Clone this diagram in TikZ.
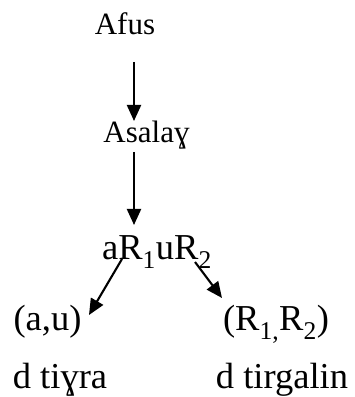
\documentclass[tikz,border=0pt]{standalone}
\usepackage{fontspec}
\setmainfont{Liberation Serif}
\usetikzlibrary{arrows.meta}
\tikzset{
  lbl/.style={anchor=base, inner sep=0pt, font=\fontsize{31}{35}\selectfont},
  biglbl/.style={lbl, font=\fontsize{36.5}{40}\selectfont},
  conn/.style={line width=2.1pt, -{Triangle[length=16pt,width=14pt]}}
}
\begin{document}
\begin{tikzpicture}[x=1pt,y=1pt]
\useasboundingbox (0,0) rectangle (355,397);
\node[lbl] (afus) at (125,362) {Afus};
\node[lbl] (asalay) at (146.5,254) {Asalaɣ};
\node[biglbl] (root) at (157,137) {aR\textsubscript{1}uR\textsubscript{2}};
\node[biglbl] (au) at (47.5,66) {(a,u)};
\node[biglbl] (rr) at (276,66) {(R\textsubscript{1,}R\textsubscript{2})};
\node[biglbl] (tiyra) at (60,9) {d tiɣra};
\node[biglbl] (tirgalin) at (282,9) {d tirgalin};
\coordinate (a1s) at (134,335);
\coordinate (a1e) at (134,276);
\coordinate (a2s) at (134,245);
\coordinate (a2e) at (134,172);
\coordinate (l1s) at (122,138);
\coordinate (l1e) at (89,82);
\coordinate (r1s) at (195,135);
\coordinate (r1e) at (222,99);
\draw[conn] (a1s) -- (a1e);
\draw[conn] (a2s) -- (a2e);
\draw[conn] (l1s) -- (l1e);
\draw[conn] (r1s) -- (r1e);
\end{tikzpicture}
\end{document}
